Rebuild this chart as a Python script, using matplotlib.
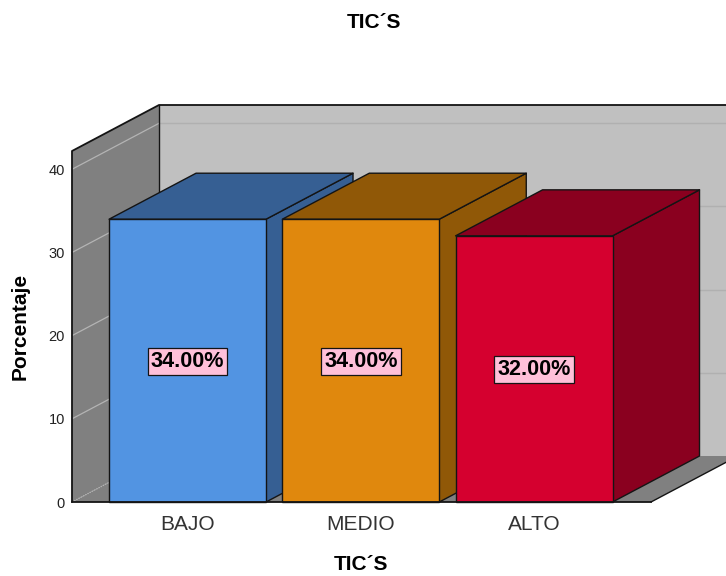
#!/usr/bin/env python3
"""
Bar chart with a fake 3D look (SPSS style): walls, floor and boxes are
polygons in data coordinates, shifted by a fixed depth offset.
"""
import matplotlib
matplotlib.use('Agg')
import matplotlib.pyplot as plt
from matplotlib.patches import Polygon

plt.rcParams['font.family'] = ['Liberation Sans', 'DejaVu Sans']

categories = ['BAJO', 'MEDIO', 'ALTO']
values = [34.0, 34.0, 32.0]
y_ticks = [0, 10, 20, 30, 40]

front_colors = ['#5294e2', '#e0880d', '#d5002f']
top_colors = ['#365f93', '#905807', '#8a001f']
side_colors = ['#365f93', '#905807', '#8a001f']

W, H = 726, 576
BAR_WIDTH = 0.906
DX, DY = 0.502, 5.53     # depth offset, data units
X0, X1 = -0.667, 2.675
Y0, Y1 = 0, 42.2
EDGE = '#141414'
LW = 1.0


def poly(ax, pts, color, z, edge=EDGE, lw=LW):
    ax.add_patch(Polygon(pts, closed=True, facecolor=color, edgecolor=edge,
                         linewidth=lw, zorder=z, clip_on=False, joinstyle='round'))


def edge_line(ax, xs, ys, z=4, lw=LW):
    ax.plot(xs, ys, color=EDGE, lw=lw, zorder=z, clip_on=False, solid_capstyle='round')


def draw_walls(ax):
    # back wall runs past the figure edge, the figure crops it
    poly(ax, [(X0 + DX, DY), (X1 + DX, DY), (X1 + DX, Y1 + DY), (X0 + DX, Y1 + DY)],
         '#c0c0c0', 1, edge='none', lw=0)
    poly(ax, [(X0, 0), (X0 + DX, DY), (X0 + DX, Y1 + DY), (X0, Y1)], '#808080', 2,
         edge='none', lw=0)
    poly(ax, [(X0, 0), (X1, 0), (X1 + DX, DY), (X0 + DX, DY)], '#808080', 2,
         edge='none', lw=0)

    for t in y_ticks[1:]:
        ax.plot([X0 + DX, X1 + DX], [t + DY, t + DY], color='#b0b0b0', lw=1.0, zorder=3,
                clip_on=False)
        ax.plot([X0, X0 + DX], [t, t + DY], color='#b4b4b4', lw=0.9, zorder=3,
                clip_on=False)
    ax.plot([X0, X0 + DX], [0, DY], color='#b4b4b4', lw=0.9, ls=(0, (1, 1)), zorder=3,
            clip_on=False)

    # dark outline of the box, floor has no edge along the back wall
    edge_line(ax, [X0, X0, X0 + DX, X1 + DX], [0, Y1, Y1 + DY, Y1 + DY], lw=1.3)
    edge_line(ax, [X0 + DX, X0 + DX], [DY, Y1 + DY])
    edge_line(ax, [X1, X1 + DX], [0, DY])


def draw_bars(ax):
    for i, v in enumerate(values):
        l, r = i - BAR_WIDTH / 2, i + BAR_WIDTH / 2
        z = 5 + i
        poly(ax, [(r, 0), (r + DX, DY), (r + DX, v + DY), (r, v)], side_colors[i], z)
        poly(ax, [(l, v), (r, v), (r + DX, v + DY), (l + DX, v + DY)], top_colors[i], z)
        ax.bar(i, v, width=BAR_WIDTH, color=front_colors[i], edgecolor=EDGE,
               linewidth=LW, zorder=z + 0.5, clip_on=False)
        ax.text(i, v / 2 - 0.1, '{:.2f}%'.format(v), ha='center', va='center',
                fontsize=15.6, fontweight='bold', color='black', zorder=20,
                bbox=dict(boxstyle='square,pad=0.14', facecolor='#ffc0d9',
                          edgecolor='#141414', linewidth=0.9))


def plot():
    fig = plt.figure()
    fig.set_size_inches(W / 100, H / 100)
    ax = fig.add_axes([72 / W, 1 - 502 / H, (651 - 72) / W, (502 - 151) / H])
    ax.set_xlim(X0, X1)
    ax.set_ylim(Y0, Y1)
    ax.patch.set_visible(False)
    for s in ax.spines.values():
        s.set_visible(False)

    draw_walls(ax)
    draw_bars(ax)
    ax.plot([X0, X1], [0, 0], color=EDGE, lw=1.3, zorder=15, clip_on=False)

    ax.set_yticks(y_ticks)
    ax.set_xticks(range(len(categories)))
    ax.set_xticklabels(categories)
    ax.tick_params(axis='y', length=0, pad=5, labelsize=10.5, labelcolor='#222222')
    ax.tick_params(axis='x', length=0, pad=9, labelsize=15, labelcolor='#333333')

    fig.text(374 / W, 1 - 22.5 / H, 'TIC´S', ha='center', va='center',
             fontsize=15, fontweight='bold')
    fig.text(361 / W, 1 - 565 / H, 'TIC´S', ha='center', va='center',
             fontsize=15, fontweight='bold')
    fig.text(20 / W, 1 - 326 / H, 'Porcentaje', ha='center', va='center',
             rotation=90, fontsize=15, fontweight='bold')

    fig.savefig('out.png', dpi=100)


if __name__ == "__main__":
    plot()
